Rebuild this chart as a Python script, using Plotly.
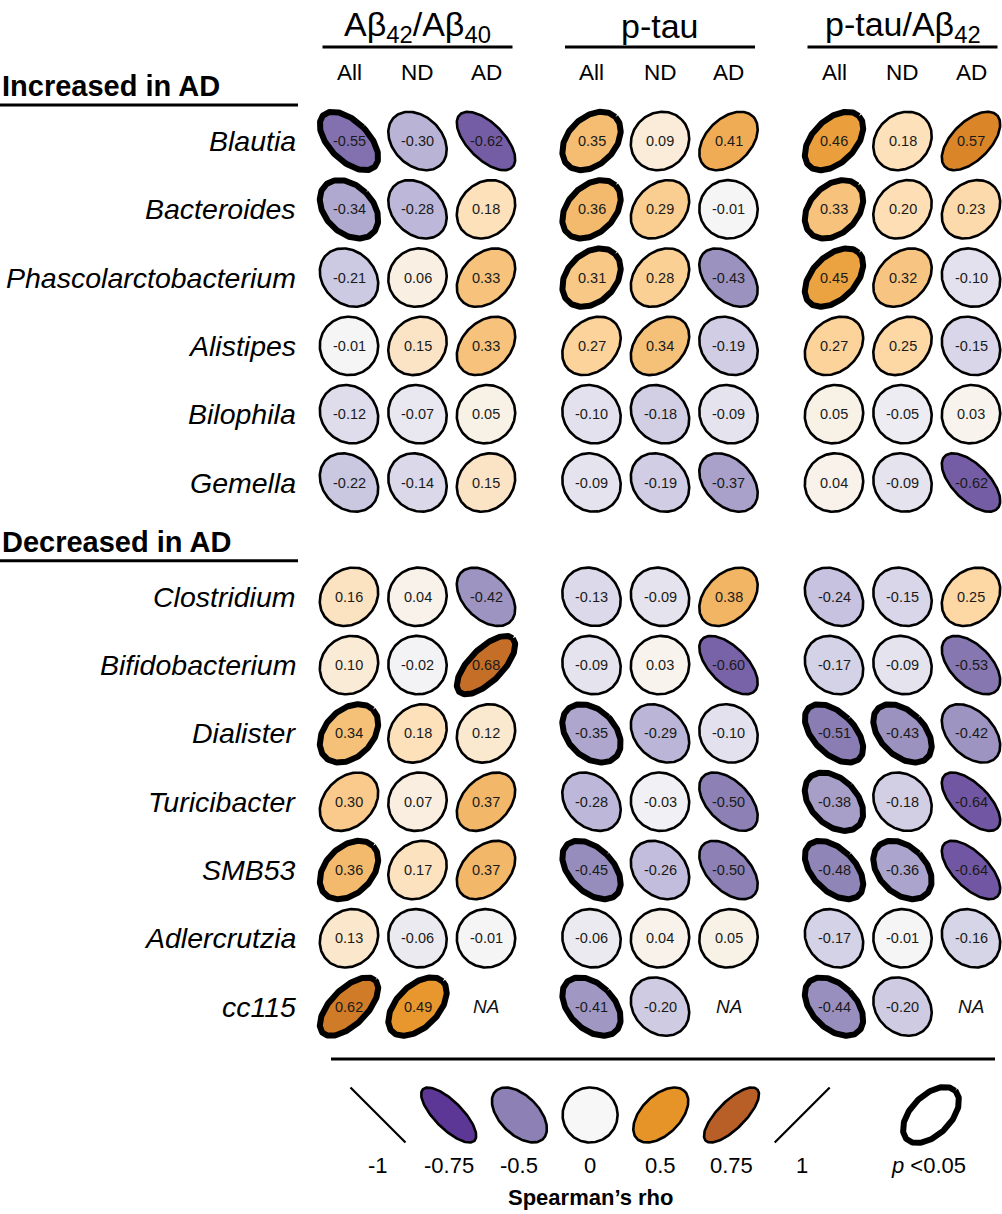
import numpy as np
import plotly.graph_objects as go
from plotly.colors import sample_colorscale

# ---------------- data ----------------
genera_increased = ["Blautia", "Bacteroides", "Phascolarctobacterium",
                    "Alistipes", "Bilophila", "Gemella"]
genera_decreased = ["Clostridium", "Bifidobacterium", "Dialister",
                    "Turicibacter", "SMB53", "Adlercrutzia", "cc115"]
measures = ["Aβ<sub>42</sub>/Aβ<sub>40</sub>", "p-tau", "p-tau/Aβ<sub>42</sub>"]
subgroups = ["All", "ND", "AD"]
section_titles = ["Increased in AD", "Decreased in AD"]

# Spearman's rho, rows = genera (increased then decreased), cols = All, ND, AD
rho_abeta_ratio = [
    [-0.55, -0.30, -0.62], [-0.34, -0.28, 0.18], [-0.21, 0.06, 0.33],
    [-0.01, 0.15, 0.33], [-0.12, -0.07, 0.05], [-0.22, -0.14, 0.15],
    [0.16, 0.04, -0.42], [0.10, -0.02, 0.68], [0.34, 0.18, 0.12],
    [0.30, 0.07, 0.37], [0.36, 0.17, 0.37], [0.13, -0.06, -0.01],
    [0.62, 0.49, None],
]
rho_ptau = [
    [0.35, 0.09, 0.41], [0.36, 0.29, -0.01], [0.31, 0.28, -0.43],
    [0.27, 0.34, -0.19], [-0.10, -0.18, -0.09], [-0.09, -0.19, -0.37],
    [-0.13, -0.09, 0.38], [-0.09, 0.03, -0.60], [-0.35, -0.29, -0.10],
    [-0.28, -0.03, -0.50], [-0.45, -0.26, -0.50], [-0.06, 0.04, 0.05],
    [-0.41, -0.20, None],
]
rho_ptau_abeta = [
    [0.46, 0.18, 0.57], [0.33, 0.20, 0.23], [0.45, 0.32, -0.10],
    [0.27, 0.25, -0.15], [0.05, -0.05, 0.03], [0.04, -0.09, -0.62],
    [-0.24, -0.15, 0.25], [-0.17, -0.09, -0.53], [-0.51, -0.43, -0.42],
    [-0.38, -0.18, -0.64], [-0.48, -0.36, -0.64], [-0.17, -0.01, -0.16],
    [-0.44, -0.20, None],
]
# p < 0.05 flags
sig_abeta_ratio = [
    [1, 0, 0], [1, 0, 0], [0, 0, 0], [0, 0, 0], [0, 0, 0], [0, 0, 0],
    [0, 0, 0], [0, 0, 1], [1, 0, 0], [0, 0, 0], [1, 0, 0], [0, 0, 0],
    [1, 1, 0],
]
sig_ptau = [
    [1, 0, 0], [1, 0, 0], [1, 0, 0], [0, 0, 0], [0, 0, 0], [0, 0, 0],
    [0, 0, 0], [0, 0, 0], [1, 0, 0], [0, 0, 0], [1, 0, 0], [0, 0, 0],
    [1, 0, 0],
]
sig_ptau_abeta = [
    [1, 0, 0], [1, 0, 0], [1, 0, 0], [0, 0, 0], [0, 0, 0], [0, 0, 0],
    [0, 0, 0], [0, 0, 0], [1, 1, 0], [1, 0, 0], [1, 1, 0], [0, 0, 0],
    [1, 0, 0],
]

legend_values = [-1, -0.75, -0.5, 0, 0.5, 0.75, 1]
legend_labels = ["-1", "-0.75", "-0.5", "0", "0.5", "0.75", "1"]

# ---------------- style / layout ----------------
W, H = 1002, 1214
FONT = "Liberation Sans"
colorscale = [
    [0.0, "#2d004b"], [0.125, "#5c3796"], [0.25, "#8c80b4"],
    [0.375, "#c4c0de"], [0.5, "#f7f7f7"], [0.625, "#fed8a4"],
    [0.75, "#e69428"], [0.875, "#b85f28"], [1.0, "#7f3b08"],
]

COL_X0, COL_STEP, GROUP_STEP = 349, 68.5, 242.5
ROW_Y0, ROW_STEP, SECTION_GAP = 141, 68.3, 46
R = 29.2
LABEL_RIGHT = 298


def color_for(r):
    return sample_colorscale(colorscale, [(r + 1) / 2])[0]


def ellipse(r, cx, cy, rad, n=160):
    d = np.arccos(np.clip(r, -1, 1))
    t = np.linspace(0, 2 * np.pi, n)
    return cx + rad * np.cos(t + d / 2), cy - rad * np.cos(t - d / 2)


fig = go.Figure()
annotations = []
shapes = []

all_rho = [rho_abeta_ratio, rho_ptau, rho_ptau_abeta]
all_sig = [sig_abeta_ratio, sig_ptau, sig_ptau_abeta]
genera = genera_increased + genera_decreased


def row_y(i):
    y = ROW_Y0 + i * ROW_STEP
    if i >= len(genera_increased):
        y += SECTION_GAP
    return y


def col_x(g, j):
    return COL_X0 + g * GROUP_STEP + j * COL_STEP


# cells
for g in range(3):
    for i, name in enumerate(genera):
        for j in range(3):
            r = all_rho[g][i][j]
            cx, cy = col_x(g, j), row_y(i)
            if r is None:
                annotations.append(dict(x=cx, y=cy, text="<i>NA</i>", showarrow=False,
                                        font=dict(family=FONT, size=19, color="#111")))
                continue
            xs, ys = ellipse(r, cx, cy, R)
            lw = 6 if all_sig[g][i][j] else 2.6
            fig.add_trace(go.Scatter(x=xs, y=ys, mode="lines", fill="toself",
                                     fillcolor=color_for(r),
                                     line=dict(color="black", width=lw),
                                     hoverinfo="skip", showlegend=False))
            annotations.append(dict(x=cx, y=cy, text=f"{r:.2f}", showarrow=False,
                                    font=dict(family=FONT, size=14.5, color="#1a1a1a")))

# row labels
for i, name in enumerate(genera):
    annotations.append(dict(x=LABEL_RIGHT, y=row_y(i), text=f"<i>{name}</i>",
                            xanchor="right", showarrow=False,
                            font=dict(family=FONT, size=28.5, color="black")))

# section headers
for s, title in enumerate(section_titles):
    first = 0 if s == 0 else len(genera_increased)
    y0 = row_y(first)
    annotations.append(dict(x=0, y=y0 - 55, text=f"<b>{title}</b>", xanchor="left",
                            showarrow=False, font=dict(family=FONT, size=29, color="black")))
    shapes.append(dict(type="line", x0=0, x1=LABEL_RIGHT, y0=y0 - 36, y1=y0 - 36,
                       xref="x", yref="y", line=dict(color="black", width=3)))

# column headers
for g, m in enumerate(measures):
    xc = col_x(g, 1)
    annotations.append(dict(x=xc, y=26, text=m, showarrow=False,
                            font=dict(family=FONT, size=34, color="black")))
    shapes.append(dict(type="line", x0=xc - 95, x1=min(xc + 95, W - 2), y0=47, y1=47,
                       xref="x", yref="y", line=dict(color="black", width=3)))
    for j, sg in enumerate(subgroups):
        annotations.append(dict(x=col_x(g, j), y=72, text=sg, showarrow=False,
                                font=dict(family=FONT, size=22.5, color="black")))

# bottom separator
shapes.append(dict(type="line", x0=331, x1=995, y0=1059, y1=1059,
                   xref="x", yref="y", line=dict(color="black", width=3)))

# legend
LEG_X0, LEG_STEP, LEG_Y, LEG_R = 378, 70.7, 1115, 27.5
for k, (v, lab) in enumerate(zip(legend_values, legend_labels)):
    cx = LEG_X0 + k * LEG_STEP
    xs, ys = ellipse(v, cx, LEG_Y, LEG_R)
    if abs(v) == 1:
        fig.add_trace(go.Scatter(x=xs, y=ys, mode="lines",
                                 line=dict(color="black", width=2.2),
                                 hoverinfo="skip", showlegend=False))
    else:
        fig.add_trace(go.Scatter(x=xs, y=ys, mode="lines", fill="toself",
                                 fillcolor=color_for(v),
                                 line=dict(color="black", width=2.6),
                                 hoverinfo="skip", showlegend=False))
    annotations.append(dict(x=cx, y=1165, text=lab, showarrow=False,
                            font=dict(family=FONT, size=22, color="black")))

# significance legend
xs, ys = ellipse(0.5, 931, LEG_Y, 28)
fig.add_trace(go.Scatter(x=xs, y=ys, mode="lines", fill="toself", fillcolor="white",
                         line=dict(color="black", width=6),
                         hoverinfo="skip", showlegend=False))
annotations.append(dict(x=928, y=1165, text="<i>p</i> &lt;0.05", showarrow=False,
                        font=dict(family=FONT, size=22, color="black")))
annotations.append(dict(x=LEG_X0 + 3 * LEG_STEP, y=1197, text="<b>Spearman’s rho</b>",
                        showarrow=False, font=dict(family=FONT, size=22, color="black")))

fig.update_layout(
    width=W, height=H, margin=dict(l=0, r=0, t=0, b=0),
    paper_bgcolor="white", plot_bgcolor="white",
    xaxis=dict(range=[0, W], visible=False, fixedrange=True),
    yaxis=dict(range=[H, 0], visible=False, fixedrange=True),
    annotations=annotations, shapes=shapes, showlegend=False,
)

fig.write_html("out.html", config={"displayModeBar": False},
               post_script="document.body.style.margin='0';")
